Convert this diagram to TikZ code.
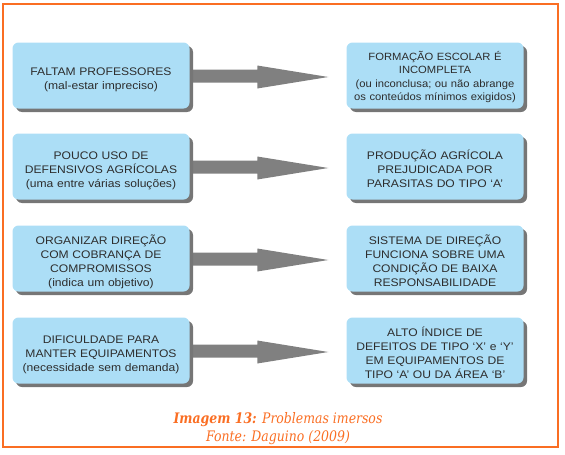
\documentclass[tikz,border=0pt]{standalone}
\usepackage{fontspec}
\usetikzlibrary{shadows}
\newfontfamily\probfont[FakeStretch=1.1]{Liberation Sans}
\newfontfamily\probfontmid[FakeStretch=1.07]{Liberation Sans}
\newfontfamily\capfont[FakeStretch=0.86]{DejaVu Serif}
\newcommand\tstrut{\rule{0pt}{15.5pt}}
\newcommand\bstrut{\rule[-2.5pt]{0pt}{2.5pt}}
\definecolor{boxblue}{RGB}{172,222,246}
\definecolor{shadowgray}{RGB}{118,118,118}
\definecolor{arrowgray}{RGB}{128,128,128}
\definecolor{txtgray}{RGB}{45,45,45}
\definecolor{frameorange}{RGB}{250,110,35}
\pgfdeclarelayer{bg}
\pgfsetlayers{bg,main}
\begin{document}
\begin{tikzpicture}[x=1pt,y=-1pt,
  probbox/.style={fill=boxblue, rounded corners=6pt, minimum width=177pt,
    minimum height=66pt, text width=176pt, align=center, text=txtgray,
    inner sep=0pt, font=\fontsize{11}{14}\probfont,
    drop shadow={shadow xshift=3.5pt, shadow yshift=-3.5pt, fill=shadowgray, opacity=1}},
  arrowfill/.style={fill=arrowgray},
  captext/.style={font=\capfont\fontsize{14.5}{18}\selectfont\itshape, text=frameorange,
    inner sep=0pt, anchor=base}
]
\useasboundingbox (0,0) rectangle (565,455);
\draw[frameorange, line width=1.5pt] (3,4) rectangle (558,447);

\node[probbox] (l1) at (101,75.5)
  {\tstrut FALTAM PROFESSORES\\(mal-estar impreciso)\bstrut};
\node[probbox] (l2) at (101,166.5)
  {\tstrut POUCO USO DE\\DEFENSIVOS AGRÍCOLAS\\(uma entre várias soluções)\bstrut};
\node[probbox] (l3) at (101,258.5)
  {\tstrut ORGANIZAR DIREÇÃO\\COM COBRANÇA DE\\COMPROMISSOS\\(indica um objetivo)\bstrut};
\node[probbox] (l4) at (101,350.5)
  {\tstrut DIFICULDADE PARA\\MANTER EQUIPAMENTOS\\(necessidade sem demanda)\bstrut};

\node[probbox, font=\fontsize{10.5}{13.3}\probfontmid] (r1) at (435,75.5)
  {\rule{0pt}{12.5pt}FORMAÇÃO ESCOLAR É\\INCOMPLETA\\(ou inconclusa; ou não abrange\\os conteúdos mínimos exigidos)\bstrut};
\node[probbox] (r2) at (435,166.5)
  {\tstrut PRODUÇÃO AGRÍCOLA\\PREJUDICADA POR\\PARASITAS DO TIPO ‘A’\bstrut};
\node[probbox] (r3) at (435,258.5)
  {\tstrut SISTEMA DE DIREÇÃO\\FUNCIONA SOBRE UMA\\CONDIÇÃO DE BAIXA\\RESPONSABILIDADE\bstrut};
\node[probbox] (r4) at (435,350.5)
  {\tstrut ALTO ÍNDICE DE\\DEFEITOS DE TIPO ‘X’ e ‘Y’\\EM EQUIPAMENTOS DE\\TIPO ‘A’ OU DA ÁREA ‘B’\bstrut};

\begin{pgfonlayer}{bg}
\foreach \i in {1,2,3,4}{
  \fill[arrowfill]
    ([xshift=-5pt,yshift=6pt]l\i.east) -- ([xshift=-89pt,yshift=6pt]r\i.west)
    -- ([xshift=-89pt,yshift=10pt]r\i.west) -- ([xshift=-18pt,yshift=-1.5pt]r\i.west)
    -- ([xshift=-89pt,yshift=-13pt]r\i.west) -- ([xshift=-89pt,yshift=-7pt]r\i.west)
    -- ([xshift=-5pt,yshift=-7pt]l\i.east) -- cycle;
}
\end{pgfonlayer}

\node[captext] (cap1) at (278,423) {\textbf{Imagem 13:} Problemas imersos};
\node[captext] (cap2) at (278,441) {Fonte: Daguino (2009)};
\end{tikzpicture}
\end{document}
